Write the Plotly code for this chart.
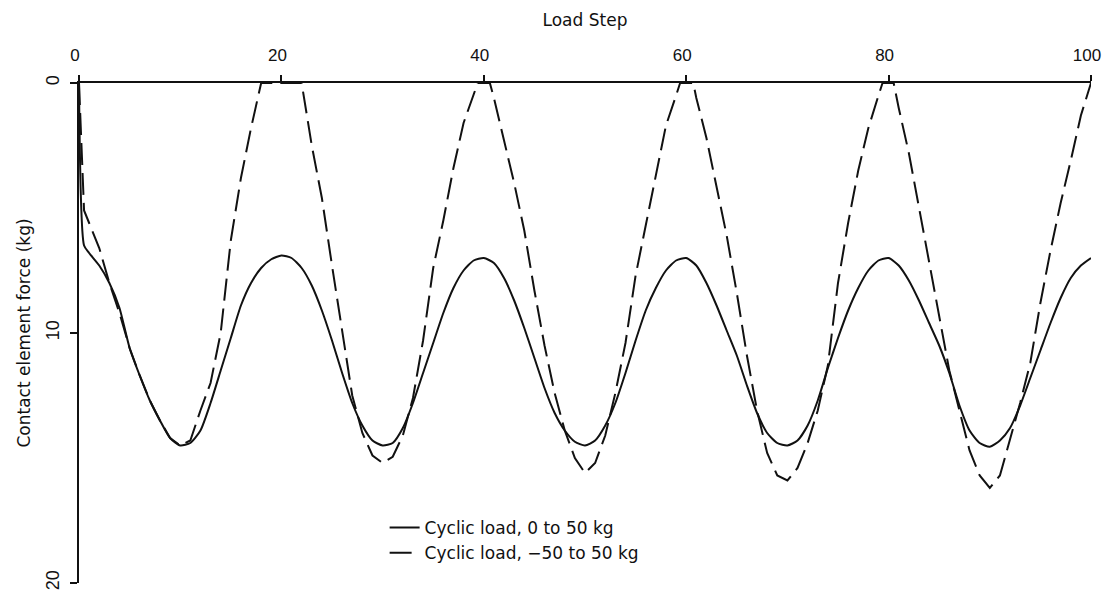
import plotly.graph_objects as go

# Load steps and contact element force (kg)
solid_steps = [0, 0.5] + list(range(1, 101))
solid_force = [0.0, 6.5,
    6.8, 7.3, 8.0, 9.0, 10.6, 11.7, 12.7, 13.5, 14.2, 14.5,
    14.4, 13.9, 12.8, 11.5, 10.2, 8.9, 8.0, 7.4, 7.05, 6.9,
    7.0, 7.4, 8.1, 9.1, 10.3, 11.6, 12.8, 13.7, 14.3, 14.5,
    14.4, 13.8, 12.8, 11.6, 10.4, 9.2, 8.2, 7.5, 7.1, 7.0,
    7.2, 7.8, 8.7, 9.8, 11.0, 12.2, 13.2, 13.9, 14.35, 14.5,
    14.3, 13.7, 12.8, 11.6, 10.3, 9.1, 8.2, 7.5, 7.1, 7.0,
    7.3, 8.0, 8.9, 9.9, 10.9, 12.1, 13.2, 14.0, 14.4, 14.5,
    14.3, 13.7, 12.7, 11.4, 10.2, 9.1, 8.2, 7.5, 7.1, 7.0,
    7.3, 7.9, 8.7, 9.6, 10.5, 11.6, 12.9, 13.9, 14.4, 14.55,
    14.3, 13.8, 12.9, 11.8, 10.7, 9.6, 8.6, 7.8, 7.3, 7.0]

dashed_steps = [0, 0.5, 1, 2, 3, 4, 5, 6, 7, 8, 9, 10, 11, 12, 13, 14, 15, 16, 17,
    18, 19, 20, 21, 22, 23, 24, 25, 26, 27, 28, 29, 30, 31, 32, 33, 34, 35, 36, 37, 38, 39,
    39.4, 40.6, 41, 42, 43, 44, 45, 46, 47, 48, 49, 50, 51, 52, 53, 54, 55, 56, 57, 58, 59,
    59.4, 60.7, 61, 62, 63, 64, 65, 66, 67, 68, 69, 70, 71, 72, 73, 74, 75, 76, 77, 78, 79,
    79.4, 80.5, 81, 82, 83, 84, 85, 86, 87, 88, 89, 90, 91, 92, 93, 94, 95, 96, 97, 98, 99, 100]
dashed_force = [0.0, 5.1, 5.6, 6.6, 8.0, 9.2, 10.6, 11.7, 12.7, 13.5, 14.2, 14.5, 14.3,
    13.1, 12.0, 10.0, 6.3, 3.8, 1.8,
    0.0, 0.0, 0.0, 0.0, 0.0, 2.5, 4.6, 7.3, 10.0, 12.5, 14.0, 14.9, 15.2, 14.95,
    14.1, 12.6, 10.3, 7.4, 5.5, 3.4, 1.6, 0.5,
    0.0, 0.0, 0.6, 2.3, 4.0, 5.9, 8.3, 10.5, 12.4, 13.9, 15.0, 15.6, 15.2,
    14.1, 12.4, 10.4, 7.7, 5.7, 3.7, 1.7, 0.5,
    0.0, 0.0, 0.6, 2.2, 4.1, 6.1, 8.4, 10.9, 13.1, 14.8, 15.7, 15.9, 15.4,
    14.4, 13.1, 11.3, 8.0, 5.6, 3.5, 1.8, 0.5,
    0.0, 0.0, 1.0, 2.8, 5.0, 7.1, 9.4, 11.5, 13.1, 14.7, 15.7, 16.2, 15.7,
    14.3, 12.8, 11.2, 8.8, 6.7, 4.8, 3.1, 1.3, 0.0]

x_ticks = [0, 20, 40, 60, 80, 100]
y_ticks = [0, 10, 20]
series_names = ["Cyclic load, 0 to 50 kg", "Cyclic load, \u221250 to 50 kg"]

TEXT_FONT = "DejaVu Sans"
TICK_FONT = "Liberation Sans"
INK = "#111111"

fig = go.Figure()
fig.add_trace(go.Scatter(x=solid_steps, y=solid_force, mode="lines",
                         name=series_names[0],
                         line=dict(color=INK, width=2, shape="spline", smoothing=0.6)))
fig.add_trace(go.Scatter(x=dashed_steps, y=dashed_force, mode="lines",
                         name=series_names[1],
                         line=dict(color=INK, width=2, dash="22px,8px")))

fig.update_layout(
    width=1104, height=603,
    margin=dict(l=79, r=13, t=83, b=20, autoexpand=False),
    paper_bgcolor="white", plot_bgcolor="white",
    font=dict(family=TEXT_FONT, color=INK, size=17),
    showlegend=True,
    legend=dict(x=0.302, y=0.146, xanchor="left", yanchor="top",
                bgcolor="rgba(0,0,0,0)", borderwidth=0,
                font=dict(size=17, family=TEXT_FONT), tracegroupgap=0),
    xaxis=dict(side="top", range=[0, 100], tickvals=x_ticks,
               automargin=False,
               showgrid=False, zeroline=False,
               showline=True, linecolor=INK, linewidth=2,
               ticks="outside", ticklen=6, tickwidth=2, tickcolor=INK,
               ticklabelstandoff=7, ticklabelshift=-4,
               ticklabeloverflow="allow",
               tickfont=dict(size=17, family=TICK_FONT),
               title=dict(text="Load Step", font=dict(size=17, family=TEXT_FONT),
                          standoff=15)),
    yaxis=dict(range=[20, 0], tickvals=y_ticks,
               automargin=False,
               showgrid=False, zeroline=False,
               showline=True, linecolor=INK, linewidth=2,
               ticks="outside", ticklen=7, tickwidth=2, tickcolor=INK,
               tickangle=-90, ticklabelstandoff=4,
               ticklabeloverflow="allow",
               tickfont=dict(size=18, family=TICK_FONT),
               title=dict(text="Contact element force (kg)",
                          font=dict(size=17, family=TEXT_FONT), standoff=8)),
)

fig.write_html("out.html",
               config={"displayModeBar": False},
               post_script="document.body.style.margin='0';document.body.style.overflow='hidden';")
